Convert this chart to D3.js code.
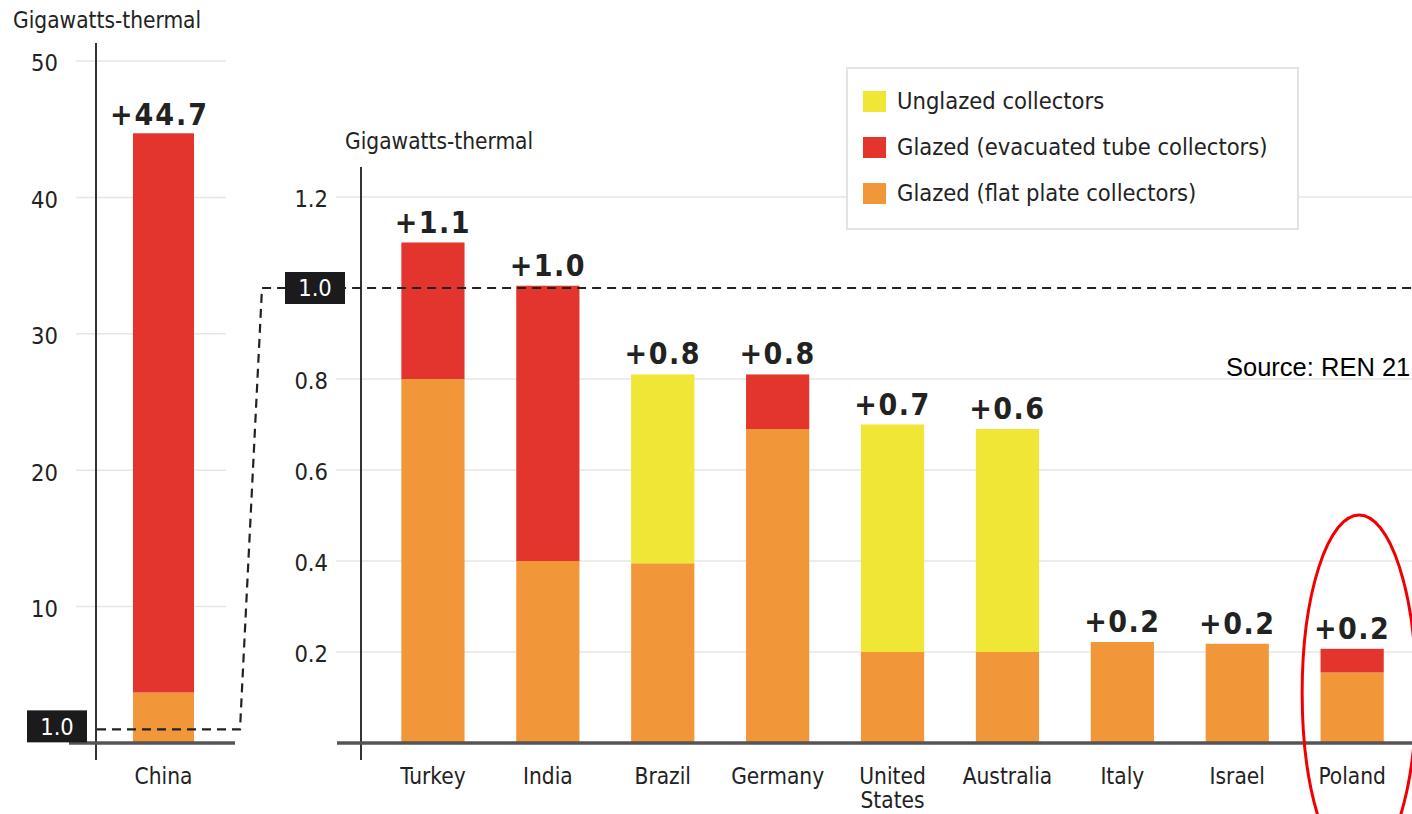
<!DOCTYPE html>
<html>
<head>
<meta charset="utf-8">
<script src="https://cdn.jsdelivr.net/npm/d3@7/dist/d3.min.js"></script>
<style>
  html, body { margin: 0; padding: 0; background: #fff; }
  svg { display: block; }
  .cond { font-family: "DejaVu Sans Condensed", "DejaVu Sans", sans-serif; font-stretch: condensed; }
</style>
</head>
<body>
<svg id="chart" width="1412" height="814"></svg>
<script>
// ---------- DATA ----------
const unitLabel = "Gigawatts-thermal";
const seriesKeys = ["flat", "evacuated", "unglazed"];
const seriesNames = {
  unglazed: "Unglazed collectors",
  evacuated: "Glazed (evacuated tube collectors)",
  flat: "Glazed (flat plate collectors)"
};
const legendOrder = ["unglazed", "evacuated", "flat"];
const seriesColors = { unglazed: "#EFE635", evacuated: "#E3342D", flat: "#F2963A" };

// Left panel (China)
const leftCategories = ["China"];
const leftFlat = [3.7];
const leftEvacuated = [41.0];
const leftUnglazed = [0];
const leftLabels = ["+44.7"];
const leftTicks = [10, 20, 30, 40, 50];

// Right panel
const categories = ["Turkey", "India", "Brazil", "Germany", "United States", "Australia", "Italy", "Israel", "Poland"];
const flatPlate = [0.80, 0.40, 0.395, 0.69, 0.20, 0.20, 0.222, 0.218, 0.155];
const evacuated = [0.30, 0.605, 0, 0.12, 0, 0, 0, 0, 0.052];
const unglazed = [0, 0, 0.415, 0, 0.50, 0.49, 0, 0, 0];
const valueLabels = ["+1.1", "+1.0", "+0.8", "+0.8", "+0.7", "+0.6", "+0.2", "+0.2", "+0.2"];
const rightTicks = [0.2, 0.4, 0.6, 0.8, 1.2];
const zoomValue = 1.0;
const sourceText = "Source: REN 21";

// ---------- SETUP ----------
const svg = d3.select("#chart");
const W = 1412, H = 814;
const baseY = 743;
const ink = "#222";

const yL = d3.scaleLinear().domain([0, 50]).range([baseY, 61]);
const yR = d3.scaleLinear().domain([0, 1.2]).range([baseY, 197]);

const xL = d3.scaleBand().domain(leftCategories).range([133, 194]).padding(0);
const xR = d3.scaleBand().domain(categories).range([375.5, 1409.6]).paddingInner(0.45).paddingOuter(0.225);

const leftRows = leftCategories.map((c, i) => ({ cat: c, flat: leftFlat[i], evacuated: leftEvacuated[i], unglazed: leftUnglazed[i] }));
const rightRows = categories.map((c, i) => ({ cat: c, flat: flatPlate[i], evacuated: evacuated[i], unglazed: unglazed[i] }));
const stack = d3.stack().keys(seriesKeys);
const leftStack = stack(leftRows);
const rightStack = stack(rightRows);

// ---------- GRIDLINES ----------
svg.append("g").selectAll("line").data(leftTicks).join("line")
  .attr("x1", 76).attr("x2", 226)
  .attr("y1", d => yL(d)).attr("y2", d => yL(d))
  .attr("stroke", "#e6e6e6").attr("stroke-width", 1.5);

svg.append("g").selectAll("line").data(rightTicks).join("line")
  .attr("x1", 336).attr("x2", W)
  .attr("y1", d => yR(d)).attr("y2", d => yR(d))
  .attr("stroke", "#e6e6e6").attr("stroke-width", 1.5);

// ---------- AXES (tick labels) ----------
function styleAxis(g) {
  g.select(".domain").remove();
  g.selectAll(".tick line").remove();
  g.selectAll(".tick text")
    .attr("class", "cond")
    .attr("font-size", 23.5)
    .attr("fill", ink)
    .attr("dy", "0.42em");
}
svg.append("g").attr("transform", "translate(96,0)")
  .call(d3.axisLeft(yL).tickValues(leftTicks).tickSize(0).tickPadding(38).tickFormat(d3.format("d")))
  .call(styleAxis);
svg.append("g").attr("transform", "translate(361,0)")
  .call(d3.axisLeft(yR).tickValues(rightTicks).tickSize(0).tickPadding(33).tickFormat(d3.format(".1f")))
  .call(styleAxis);

// Axis titles
svg.append("text").attr("class", "cond").attr("x", 13).attr("y", 28)
  .attr("font-size", 22.5).attr("fill", ink).text(unitLabel);
svg.append("text").attr("class", "cond").attr("x", 345).attr("y", 149)
  .attr("font-size", 22.5).attr("fill", ink).text(unitLabel);

// ---------- BARS ----------
svg.append("g").selectAll("g").data(leftStack).join("g")
  .attr("fill", d => seriesColors[d.key])
  .selectAll("rect").data(d => d).join("rect")
  .attr("x", d => xL(d.data.cat))
  .attr("width", xL.bandwidth())
  .attr("y", d => yL(d[1]))
  .attr("height", d => yL(d[0]) - yL(d[1]));

svg.append("g").selectAll("g").data(rightStack).join("g")
  .attr("fill", d => seriesColors[d.key])
  .selectAll("rect").data(d => d).join("rect")
  .attr("x", d => xR(d.data.cat))
  .attr("width", xR.bandwidth())
  .attr("y", d => yR(d[1]))
  .attr("height", d => yR(d[0]) - yR(d[1]));

// ---------- AXIS LINES / BASELINES ----------
svg.append("line").attr("x1", 96).attr("x2", 96).attr("y1", 43).attr("y2", 760)
  .attr("stroke", "#333").attr("stroke-width", 2);
svg.append("line").attr("x1", 361).attr("x2", 361).attr("y1", 167).attr("y2", 760)
  .attr("stroke", "#333").attr("stroke-width", 2);
svg.append("line").attr("x1", 69).attr("x2", 235).attr("y1", baseY).attr("y2", baseY)
  .attr("stroke", "#555").attr("stroke-width", 3.5);
svg.append("line").attr("x1", 337).attr("x2", W).attr("y1", baseY).attr("y2", baseY)
  .attr("stroke", "#555").attr("stroke-width", 3.5);

// ---------- DASHED CONNECTOR ----------
svg.append("path")
  .attr("d", d3.line()([[97, yL(zoomValue)], [240, yL(zoomValue)], [262, yR(zoomValue)], [W, yR(zoomValue)]]))
  .attr("fill", "none").attr("stroke", "#222").attr("stroke-width", 2.2)
  .attr("stroke-dasharray", "9,6");

// Boxed 1.0 labels
function boxLabel(cx, cy) {
  const g = svg.append("g");
  g.append("rect").attr("x", cx - 30).attr("y", cy - 16).attr("width", 60).attr("height", 32).attr("fill", "#1b1b1d");
  g.append("text").attr("class", "cond").attr("x", cx).attr("y", cy).attr("dy", "0.36em")
    .attr("text-anchor", "middle").attr("font-size", 23.5).attr("fill", "#fff").text(d3.format(".1f")(zoomValue));
}
boxLabel(57, yL(zoomValue) - 3);
boxLabel(315, yR(zoomValue));

// ---------- VALUE LABELS ----------
svg.append("g").selectAll("text").data(leftCategories).join("text")
  .attr("class", "cond")
  .attr("x", d => xL(d) + xL.bandwidth() / 2 - 4)
  .attr("y", (d, i) => yL(leftFlat[i] + leftEvacuated[i] + leftUnglazed[i]) - 8)
  .attr("text-anchor", "middle").attr("font-size", 30).attr("font-weight", "bold")
  .attr("letter-spacing", 2)
  .attr("fill", ink).text((d, i) => leftLabels[i]);

svg.append("g").selectAll("text").data(categories).join("text")
  .attr("class", "cond")
  .attr("x", d => xR(d) + xR.bandwidth() / 2)
  .attr("y", (d, i) => yR(flatPlate[i] + evacuated[i] + unglazed[i]) - 10)
  .attr("text-anchor", "middle").attr("font-size", 30).attr("font-weight", "bold")
  .attr("letter-spacing", 1.5)
  .attr("fill", ink).text((d, i) => valueLabels[i]);

// ---------- CATEGORY LABELS ----------
function catLabels(data, x) {
  data.forEach(d => {
    const parts = d === "United States" ? ["United", "States"] : [d];
    parts.forEach((p, k) => {
      svg.append("text")
        .attr("class", "cond")
        .attr("x", x(d) + x.bandwidth() / 2)
        .attr("y", 784 + k * 24)
        .attr("text-anchor", "middle").attr("font-size", 22.5).attr("fill", ink)
        .text(p);
    });
  });
}
catLabels(leftCategories, xL);
catLabels(categories, xR);

// ---------- LEGEND ----------
const lg = svg.append("g");
lg.append("rect").attr("x", 847).attr("y", 68).attr("width", 451).attr("height", 161)
  .attr("fill", "#fff").attr("stroke", "#e3e3e3").attr("stroke-width", 2);
const items = lg.selectAll("g.item").data(legendOrder).join("g").attr("class", "item")
  .attr("transform", (d, i) => `translate(863, ${101 + i * 46})`);
items.append("rect").attr("x", 0).attr("y", -10).attr("width", 23).attr("height", 21)
  .attr("fill", d => seriesColors[d]);
items.append("text").attr("class", "cond").attr("x", 34).attr("y", 0).attr("dy", "0.36em")
  .attr("font-size", 23.5).attr("fill", ink).text(d => seriesNames[d]);

// ---------- SOURCE ----------
svg.append("text").attr("x", 1226).attr("y", 376)
  .attr("font-family", "'Liberation Sans', Arial, sans-serif").attr("font-size", 25.5)
  .attr("fill", "#000").text(sourceText);

// ---------- HIGHLIGHT ELLIPSE ----------
const pc = xR("Poland") + xR.bandwidth() / 2;
svg.append("ellipse").attr("cx", pc + 7).attr("cy", 693).attr("rx", 57).attr("ry", 178)
  .attr("fill", "none").attr("stroke", "#f20000").attr("stroke-width", 3);
</script>
</body>
</html>
